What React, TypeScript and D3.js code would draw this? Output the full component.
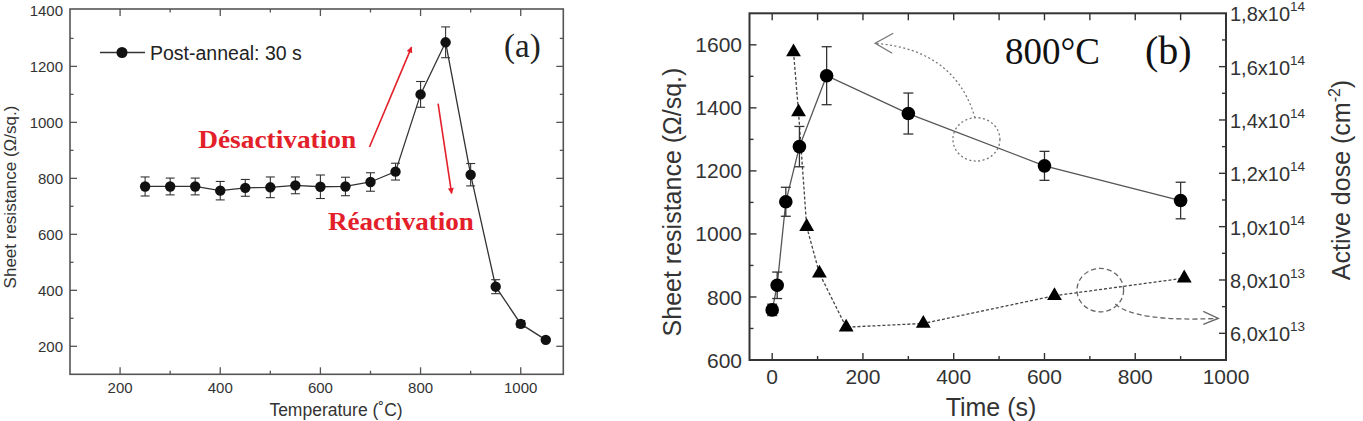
import * as d3 from 'd3';
import type { FC } from 'react';

// Panel (a): sheet resistance vs post-anneal temperature
const tempC = [250, 300, 350, 400, 450, 500, 550, 600, 650, 700, 750, 800, 850, 900, 950, 1000, 1050];
const sheetResA = [771, 771, 771, 756, 766, 768, 775, 770, 771, 787, 824, 1100, 1286, 813, 413, 280, 223];
const sheetResAErr = [34, 30, 30, 33, 30, 37, 30, 42, 33, 33, 30, 46, 55, 40, 25, 12, 6];
const tempTicks = [200, 400, 600, 800, 1000];
const resATicks = [200, 400, 600, 800, 1000, 1200, 1400];

// Panel (b): 800°C isothermal anneal
const timeRes = [0, 11, 30, 60, 120, 300, 600, 900];
const sheetResB = [759, 837, 1102, 1277, 1502, 1382, 1216, 1106];
const sheetResBErr = [18, 42, 46, 64, 92, 65, 46, 58];
const timeDose = [47, 58, 76, 104, 163, 333, 622, 908];
const activeDose = [1.655e14, 1.43e14, 1.0e14, 8.25e13, 6.23e13, 6.37e13, 7.41e13, 8.07e13];
const timeTicks = [0, 200, 400, 600, 800, 1000];
const resBTicks = [600, 800, 1000, 1200, 1400, 1600];
const doseTicks = [6e13, 8e13, 1e14, 1.2e14, 1.4e14, 1.6e14, 1.8e14];

const SANS = 'Liberation Sans, Arial, sans-serif';
const SERIF = 'Liberation Serif, Times New Roman, serif';

const range = (a: number, b: number, step: number) => d3.range(a, b + step / 2, step);

const fmtDose = (v: number) => {
  const e = Math.floor(Math.log10(v) + 1e-9);
  const m = (v / Math.pow(10, e)).toFixed(1).replace('.', ',');
  return { m, e };
};

const App: FC = () => {
  // ---------- panel (a) ----------
  const xA = d3.scaleLinear().domain([100, 1085]).range([70, 563.3]);
  const yA = d3.scaleLinear().domain([100, 1405]).range([374.3, 9]);
  const [aL, aR] = xA.range();
  const [aB, aT] = yA.range();
  const lineA = d3
    .line<number>()
    .x((_, i) => xA(tempC[i]))
    .y((d) => yA(d));

  // ---------- panel (b) ----------
  const xB = d3.scaleLinear().domain([-50, 1000]).range([749.5, 1226]);
  const yL = d3.scaleLinear().domain([600, 1700]).range([360, 13.3]);
  const yR = d3.scaleLinear().domain([5e13, 1.8e14]).range([360, 13.3]);
  const [bL, bR] = xB.range();
  const [bB, bT] = yL.range();
  const lineRes = d3
    .line<number>()
    .x((_, i) => xB(timeRes[i]))
    .y((d) => yL(d));
  const lineDose = d3
    .line<number>()
    .x((_, i) => xB(timeDose[i]))
    .y((d) => yR(d));
  const tri = d3.symbol(d3.symbolTriangle, 95)() || '';

  // annotation helpers (data coordinates)
  const c1 = { x: xB(450), y: yL(1300) };
  const arr1 = {
    s: [xB(447), yL(1368)],
    c: [xB(403), yL(1585)],
    t: [xB(227), yL(1605)],
  };
  const c2 = { x: xB(723), y: yR(7.62e13) };
  const arr2 = {
    s: [xB(756), yR(7.1e13)],
    c: [xB(800), yR(6.42e13)],
    t: [xB(983), yR(6.56e13)],
  };

  return (
    <svg
      width={1363}
      height={421}
      style={{ position: 'absolute', left: 0, top: 0, background: '#fff' }}
    >
      <defs>
        <marker id="redHead" viewBox="0 0 10 10" refX="9" refY="5" markerWidth="9" markerHeight="6" orient="auto" markerUnits="userSpaceOnUse">
          <path d="M0,0 L10,5 L0,10 z" fill="#e3202a" />
        </marker>
      </defs>

      {/* ================= Panel (a) ================= */}
      <g>
        <rect x={aL} y={aT} width={aR - aL} height={aB - aT} fill="none" stroke="#555" strokeWidth={1.6} />
        {/* x ticks, bottom and top, inward */}
        {range(200, 1000, 100).map((t) => {
          const major = t % 200 === 0;
          const len = major ? 7 : 3.5;
          return (
            <g key={`xa${t}`} stroke="#555" strokeWidth={1.3}>
              <line x1={xA(t)} x2={xA(t)} y1={aB} y2={aB - len} />
              <line x1={xA(t)} x2={xA(t)} y1={aT} y2={aT + len} />
            </g>
          );
        })}
        {/* y ticks, left and right, inward */}
        {range(200, 1300, 100).map((t) => {
          const major = t % 200 === 0;
          const len = major ? 7 : 3.5;
          return (
            <g key={`ya${t}`} stroke="#555" strokeWidth={1.3}>
              <line x1={aL} x2={aL + len} y1={yA(t)} y2={yA(t)} />
              <line x1={aR} x2={aR - len} y1={yA(t)} y2={yA(t)} />
            </g>
          );
        })}
        {tempTicks.map((t) => (
          <text key={`xal${t}`} x={xA(t)} y={393} textAnchor="middle" fontFamily={SANS} fontSize={15} fill="#333">
            {t}
          </text>
        ))}
        {resATicks.map((t) => (
          <text key={`yal${t}`} x={63} y={yA(t)} dy="0.36em" textAnchor="end" fontFamily={SANS} fontSize={15} fill="#333">
            {t}
          </text>
        ))}
        <text x={336} y={416} textAnchor="middle" fontFamily={SANS} fontSize={17.5} fill="#333">
          Temperature (˚C)
        </text>
        <text
          transform={`translate(16,${197}) rotate(-90)`}
          textAnchor="middle"
          fontFamily={SANS}
          fontSize={17}
          fill="#333"
        >
          Sheet resistance (Ω/sq.)
        </text>

        {/* data */}
        <path d={lineA(sheetResA) || ''} fill="none" stroke="#333" strokeWidth={1.3} />
        {sheetResA.map((v, i) => {
          const x = xA(tempC[i]);
          const e = sheetResAErr[i];
          return (
            <g key={`ea${i}`} stroke="#333" strokeWidth={1.1}>
              <line x1={x} x2={x} y1={yA(v - e)} y2={yA(v + e)} />
              <line x1={x - 4.5} x2={x + 4.5} y1={yA(v - e)} y2={yA(v - e)} />
              <line x1={x - 4.5} x2={x + 4.5} y1={yA(v + e)} y2={yA(v + e)} />
            </g>
          );
        })}
        {sheetResA.map((v, i) => (
          <circle key={`pa${i}`} cx={xA(tempC[i])} cy={yA(v)} r={5.2} fill="#111" />
        ))}

        {/* legend */}
        <line x1={100} x2={145} y1={52.5} y2={52.5} stroke="#333" strokeWidth={1.3} />
        <circle cx={122} cy={52.5} r={5.5} fill="#111" />
        <text x={150} y={59.5} fontFamily={SANS} fontSize={19.5} fill="#222">
          Post-anneal: 30 s
        </text>
        <text x={504} y={57} fontFamily={SERIF} fontSize={33} fill="#222">
          (a)
        </text>

        {/* red annotations */}
        <line x1={xA(698)} y1={yA(912)} x2={xA(782)} y2={yA(1269)} stroke="#e3202a" strokeWidth={1.6} markerEnd="url(#redHead)" />
        <line x1={xA(835)} y1={yA(1067)} x2={xA(862)} y2={yA(746)} stroke="#e3202a" strokeWidth={1.6} markerEnd="url(#redHead)" />
        <text x={xA(356)} y={yA(907)} fontFamily={SERIF} fontWeight="bold" fontSize={25} fill="#e3202a" textLength={158} lengthAdjust="spacingAndGlyphs">
          Désactivation
        </text>
        <text x={xA(615)} y={yA(615)} fontFamily={SERIF} fontWeight="bold" fontSize={25} fill="#e3202a" textLength={146} lengthAdjust="spacingAndGlyphs">
          Réactivation
        </text>
      </g>

      {/* ================= Panel (b) ================= */}
      <g>
        <rect x={bL} y={bT} width={bR - bL} height={bB - bT} fill="none" stroke="#333" strokeWidth={2} />
        {range(0, 900, 100).map((t) => {
          const major = t % 200 === 0;
          return (
            <g key={`xb${t}`} stroke="#333" strokeWidth={1.4}>
              <line x1={xB(t)} x2={xB(t)} y1={bB} y2={bB - (major ? 7 : 4)} />
              <line x1={xB(t)} x2={xB(t)} y1={bT} y2={bT + 7} />
            </g>
          );
        })}
        {range(700, 1600, 100).map((t) => (
          <line key={`ybl${t}`} x1={bL} x2={bL + (t % 200 === 0 ? 7 : 4)} y1={yL(t)} y2={yL(t)} stroke="#333" strokeWidth={1.4} />
        ))}
        {range(6e13, 1.7e14, 1e13).map((t, i) => (
          <line key={`ybr${t}`} x1={bR} x2={bR - (i % 2 === 0 ? 7 : 4)} y1={yR(t)} y2={yR(t)} stroke="#333" strokeWidth={1.4} />
        ))}
        {timeTicks.map((t) => (
          <text key={`xbl${t}`} x={xB(t)} y={384} textAnchor="middle" fontFamily={SANS} fontSize={21} fill="#333">
            {t}
          </text>
        ))}
        {resBTicks.map((t) => (
          <text key={`ybll${t}`} x={742} y={yL(t)} dy="0.36em" textAnchor="end" fontFamily={SANS} fontSize={21} fill="#333">
            {t}
          </text>
        ))}
        {doseTicks.map((t) => {
          const { m, e } = fmtDose(t);
          return (
            <text key={`ybrl${t}`} x={1230} y={yR(t) + 8} fontFamily={SANS} fontSize={20} fill="#333">
              {`${m}x10`}
              <tspan dy={-10} fontSize={13.5}>
                {e}
              </tspan>
            </text>
          );
        })}
        <text x={991} y={416} textAnchor="middle" fontFamily={SANS} fontSize={25} fill="#333">
          Time (s)
        </text>
        <text transform={`translate(681,202) rotate(-90)`} textAnchor="middle" fontFamily={SANS} fontSize={25} fill="#333">
          Sheet resistance (Ω/sq.)
        </text>
        <text transform={`translate(1350,180) rotate(-90)`} textAnchor="middle" fontFamily={SANS} fontSize={25} fill="#333">
          Active dose (cm
          <tspan dy={-10} fontSize={16}>
            -2
          </tspan>
          <tspan dy={10}>)</tspan>
        </text>
        <text x={1005} y={64} fontFamily={SERIF} fontSize={37} fill="#111">
          800°C
        </text>
        <text x={1145} y={64} fontFamily={SERIF} fontSize={40} fill="#111">
          (b)
        </text>

        {/* series */}
        <path d={lineDose(activeDose) || ''} fill="none" stroke="#444" strokeWidth={1.3} strokeDasharray="3,2" />
        <path d={lineRes(sheetResB) || ''} fill="none" stroke="#555" strokeWidth={1.3} />
        {sheetResB.map((v, i) => {
          const x = xB(timeRes[i]);
          const e = sheetResBErr[i];
          return (
            <g key={`eb${i}`} stroke="#333" strokeWidth={1.3}>
              <line x1={x} x2={x} y1={yL(v - e)} y2={yL(v + e)} />
              <line x1={x - 5} x2={x + 5} y1={yL(v - e)} y2={yL(v - e)} />
              <line x1={x - 5} x2={x + 5} y1={yL(v + e)} y2={yL(v + e)} />
            </g>
          );
        })}
        {sheetResB.map((v, i) => (
          <circle key={`pb${i}`} cx={xB(timeRes[i])} cy={yL(v)} r={6.8} fill="#000" />
        ))}
        {activeDose.map((v, i) => (
          <path key={`tb${i}`} d={tri} transform={`translate(${xB(timeDose[i])},${yR(v)})`} fill="#000" />
        ))}

        {/* axis-pointer annotations */}
        <ellipse cx={c1.x} cy={c1.y} rx={23.5} ry={21.7} fill="none" stroke="#777" strokeWidth={1.3} strokeDasharray="2,2.5" />
        <path
          d={`M${arr1.s[0]},${arr1.s[1]} Q${arr1.c[0]},${arr1.c[1]} ${arr1.t[0]},${arr1.t[1]}`}
          fill="none"
          stroke="#777"
          strokeWidth={1.3}
          strokeDasharray="2,2.5"
        />
        <polyline
          points={`${arr1.t[0] + 18},${arr1.t[1] - 10} ${arr1.t[0]},${arr1.t[1]} ${arr1.t[0] + 17},${arr1.t[1] + 10}`}
          fill="none"
          stroke="#777"
          strokeWidth={1.3}
        />
        <ellipse cx={c2.x} cy={c2.y} rx={23.3} ry={21.7} fill="none" stroke="#666" strokeWidth={1.3} strokeDasharray="5,3" />
        <path
          d={`M${arr2.s[0]},${arr2.s[1]} Q${arr2.c[0]},${arr2.c[1]} ${arr2.t[0]},${arr2.t[1]}`}
          fill="none"
          stroke="#666"
          strokeWidth={1.3}
          strokeDasharray="5,3"
        />
        <polyline
          points={`${arr2.t[0] - 15},${arr2.t[1] - 7} ${arr2.t[0]},${arr2.t[1]} ${arr2.t[0] - 15},${arr2.t[1] + 6}`}
          fill="none"
          stroke="#666"
          strokeWidth={1.3}
        />
      </g>
    </svg>
  );
};

export default App;
